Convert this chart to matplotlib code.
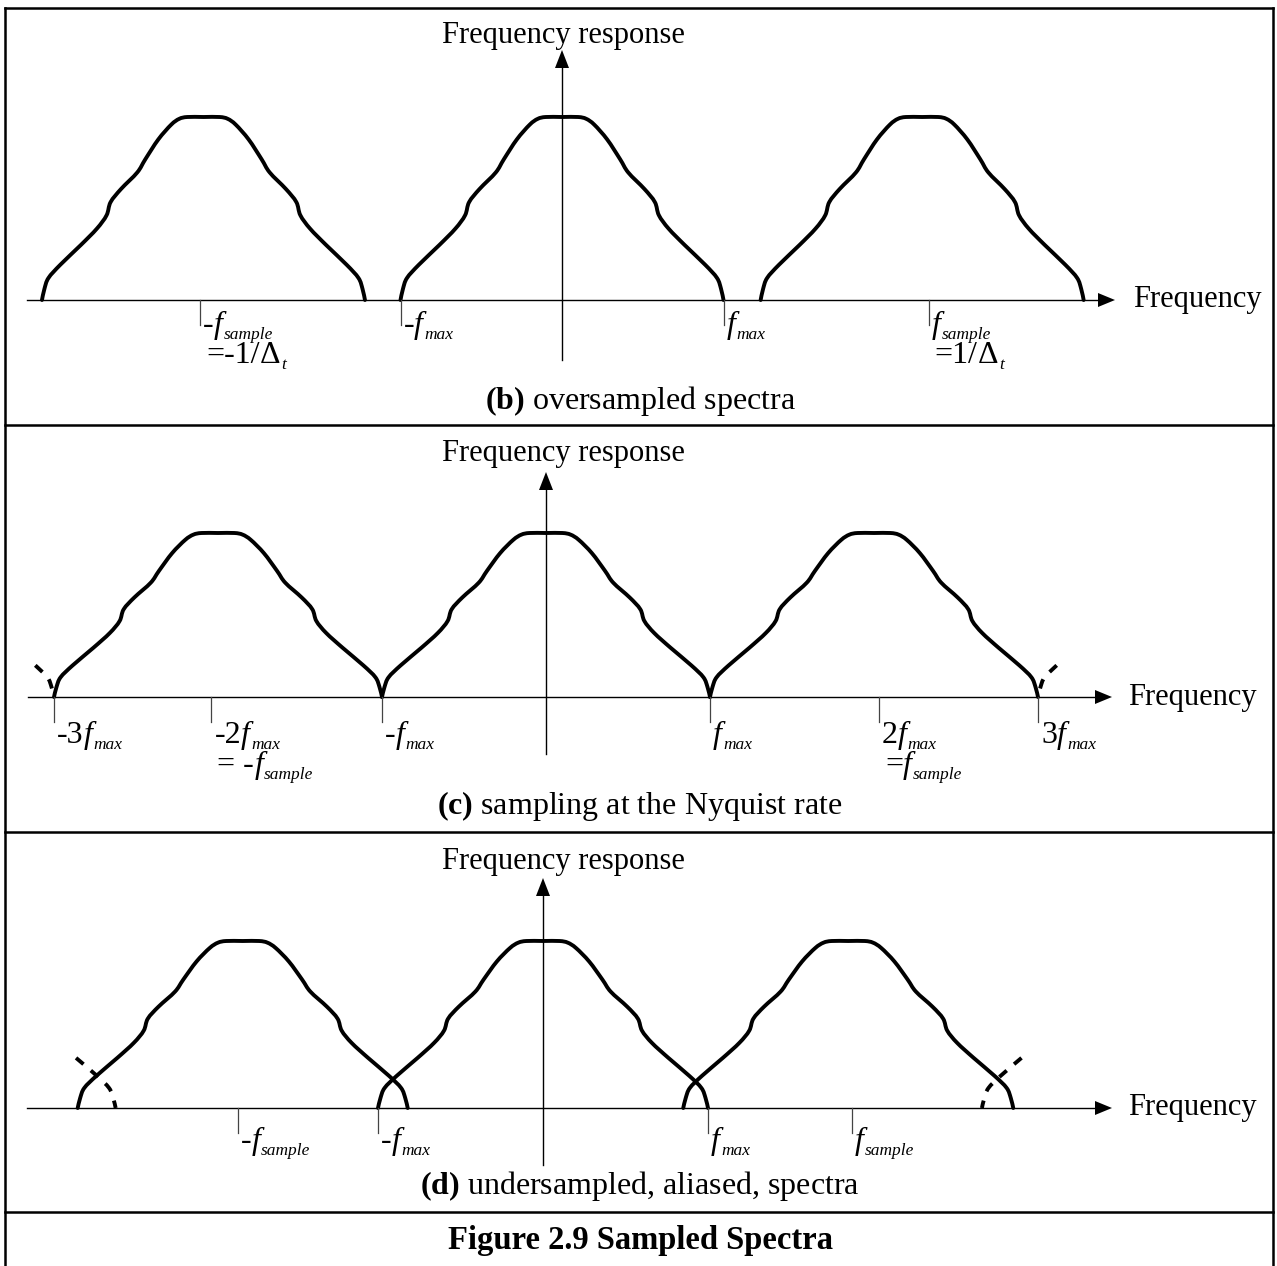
import re
import numpy as np
import matplotlib
matplotlib.use("Agg")
import matplotlib.pyplot as plt
from matplotlib.path import Path
from matplotlib.patches import PathPatch, Polygon
from matplotlib.transforms import Affine2D

plt.rcParams.update({
    "font.family": ["Liberation Serif", "DejaVu Serif"],
    "mathtext.fontset": "custom",
    "mathtext.rm": "Liberation Serif",
    "mathtext.it": "Liberation Serif:italic",
    "mathtext.bf": "Liberation Serif:bold",
})

# Half profile of one spectral lobe: distance from the lobe centre (units of f_max)
# and relative magnitude.
profile_u = [0.00, 0.10, 0.15, 0.20, 0.28, 0.36, 0.41, 0.51, 0.575, 0.60, 0.66, 0.76, 0.886, 0.96, 0.985, 1.00]
profile_v = [1.00, 1.00, 0.99, 0.958, 0.877, 0.769, 0.697, 0.607, 0.535, 0.463, 0.39, 0.30, 0.193, 0.12, 0.06, 0.00]

# (b) oversampled
b_lobes = [-2.22, 0.0, 2.23]
b_alias = []
b_ticks = [-2.24, -1.0, 1.0, 2.27]
b_labels = [["-f_{sample}", "=-1/\u0394_{t}"], ["-f_{max}"], ["f_{max}"], ["f_{sample}", "=1/\u0394_{t}"]]

# (c) Nyquist rate
c_lobes = [-2.0, 0.0, 2.0]
c_alias = [(-4.0, 0.14), (4.0, 0.2)]
c_ticks = [-3.0, -2.04, -1.0, 1.0, 2.03, 3.0]
c_labels = [["-3f_{max}"], ["-2f_{max}", "= -f_{sample}"], ["-f_{max}"], ["f_{max}"],
            ["2f_{max}", "=f_{sample}"], ["3f_{max}"]]

# (d) undersampled
d_lobes = [-1.82, 0.0, 1.85]
d_alias = [(-3.59, 0.27), (3.66, 0.25)]
d_ticks = [-1.85, -1.0, 1.0, 1.87]
d_labels = [["-f_{sample}"], ["-f_{max}"], ["f_{max}"], ["f_{sample}"]]

captions = [r"$\mathbf{(b)}$ oversampled spectra",
            r"$\mathbf{(c)}$ sampling at the Nyquist rate",
            r"$\mathbf{(d)}$ undersampled, aliased, spectra"]
figure_title = "Figure 2.9 Sampled Spectra"

W, H = 1277, 1266
fig = plt.figure(figsize=(W / 100, H / 100), dpi=100)
canvas = fig.add_axes([0, 0, 1, 1])
canvas.set_xlim(0, W)
canvas.set_ylim(H, 0)
canvas.axis("off")
renderer = fig.canvas.get_renderer()

FS = 22
LAB_FS = 23
SUB_FS = 12.5
SUB_DROP = 6
TOKEN = re.compile("(f|\u0394)_\\{(\\w+)\\}")


def smooth_path(xs, ys):
    """Catmull-Rom curve through the given points, as cubic Bezier segments."""
    pts = np.column_stack([xs, ys])
    ext = np.vstack([pts[0], pts, pts[-1]])
    verts = [pts[0]]
    codes = [Path.MOVETO]
    for i in range(len(pts) - 1):
        p0, p1, p2, p3 = ext[i], ext[i + 1], ext[i + 2], ext[i + 3]
        verts += [p1 + (p2 - p0) / 6.0, p2 - (p3 - p1) / 6.0, p2]
        codes += [Path.CURVE4] * 3
    return Path(verts, codes)


def full_lobe(center):
    u = np.array(profile_u)
    v = np.array(profile_v)
    xs = np.concatenate([center - u[::-1], center + u[1:]])
    ys = np.concatenate([v[::-1], v[1:]])
    return xs, ys


def half_lobe(center, reach):
    u = np.array(profile_u)
    v = np.array(profile_v)
    keep = u >= 1.0 - reach
    if center < 0:   # right-hand flank of a lobe lying off to the left
        return center + u[keep], v[keep]
    return center - u[keep], v[keep]


def piece(x, y, s, size, style="normal"):
    t = canvas.text(x, y, s, fontsize=size, fontstyle=style, ha="left", va="baseline")
    return t.get_window_extent(renderer).width


def draw_label_line(x, y, line):
    """Text with italic f / upright Delta followed by a small italic subscript."""
    pos = 0
    for m in TOKEN.finditer(line):
        if m.start() > pos:
            x += piece(x, y, line[pos:m.start()], LAB_FS)
        base, sub = m.group(1), m.group(2)
        if base == "f":
            x += piece(x, y, base, LAB_FS, "italic") + 1
        else:
            x += piece(x, y, base, LAB_FS) + 1
        x += piece(x, y + SUB_DROP, sub, SUB_FS, "italic")
        pos = m.end()
    if pos < len(line):
        piece(x, y, line[pos:], LAB_FS)


panels = [
    dict(cx=562, fmax=161.5, axis_y=300, h=183, left=27, tip=1115, vbot=360, vtip=50,
         resp_y=35, cap_y=401, freq_x=1133, lab_base=33, lab_step=30,
         lobes=b_lobes, alias=b_alias, ticks=b_ticks, labels=b_labels),
    dict(cx=546, fmax=164, axis_y=697, h=164, left=28, tip=1112, vbot=754, vtip=472,
         resp_y=454, cap_y=806, freq_x=1128, lab_base=46, lab_step=30,
         lobes=c_lobes, alias=c_alias, ticks=c_ticks, labels=c_labels),
    dict(cx=543, fmax=165, axis_y=1108, h=167, left=27, tip=1112, vbot=1165, vtip=878,
         resp_y=861, cap_y=1186, freq_x=1128, lab_base=41, lab_step=26,
         lobes=d_lobes, alias=d_alias, ticks=d_ticks, labels=d_labels),
]

for p, cap in zip(panels, captions):
    T = Affine2D().scale(p["fmax"], -p["h"]).translate(p["cx"], p["axis_y"]) + canvas.transData

    # frequency axis with arrow head
    ay = p["axis_y"]
    canvas.plot([p["left"], p["tip"] - 14], [ay, ay], color="black", lw=1.0)
    canvas.add_patch(Polygon([[p["tip"], ay], [p["tip"] - 17, ay - 7], [p["tip"] - 17, ay + 7]],
                             closed=True, color="black", lw=0))
    canvas.text(p["freq_x"], ay, "Frequency", fontsize=FS, ha="left", va="center")

    # response axis with arrow head
    vx = p["cx"]
    canvas.plot([vx, vx], [p["vbot"], p["vtip"] + 14], color="black", lw=1.0)
    canvas.add_patch(Polygon([[vx, p["vtip"]], [vx - 7, p["vtip"] + 18], [vx + 7, p["vtip"] + 18]],
                             closed=True, color="black", lw=0))
    canvas.text(563, p["resp_y"], "Frequency response", fontsize=FS, ha="center", va="center")

    # tick marks and their labels
    for t, lines in zip(p["ticks"], p["labels"]):
        canvas.plot([t, t], [0, -25 / p["h"]], transform=T, color="#444444", lw=0.9)
        tx = T.transform((t, 0))
        x_px = canvas.transData.inverted().transform(tx)[0]
        for k, line in enumerate(lines):
            draw_label_line(x_px + 3 + 3 * k, ay + p["lab_base"] + k * p["lab_step"], line)

    # spectral lobes
    for c in p["lobes"]:
        xs, ys = full_lobe(c)
        canvas.add_patch(PathPatch(smooth_path(xs, ys), transform=T, fill=False,
                                   edgecolor="black", lw=2.8, capstyle="round", joinstyle="round"))
    for c, reach in p["alias"]:
        xs, ys = half_lobe(c, reach)
        canvas.add_patch(PathPatch(smooth_path(xs, ys), transform=T, fill=False,
                                   edgecolor="black", lw=2.8, linestyle=(0, (2.5, 2.5))))

    canvas.text(640, p["cap_y"], cap, fontsize=23, ha="center", va="center")

# frame around the panels
frame_kw = dict(color="black", lw=1.8, solid_capstyle="projecting")
canvas.plot([5, 5], [8, H], **frame_kw)
canvas.plot([1273, 1273], [8, H], **frame_kw)
for y in (8, 425, 832, 1212):
    canvas.plot([5, 1273], [y, y], **frame_kw)

canvas.text(640, 1240, figure_title, fontsize=23.5, fontweight="bold", ha="center", va="center")

fig.savefig("out.png", dpi=100)
